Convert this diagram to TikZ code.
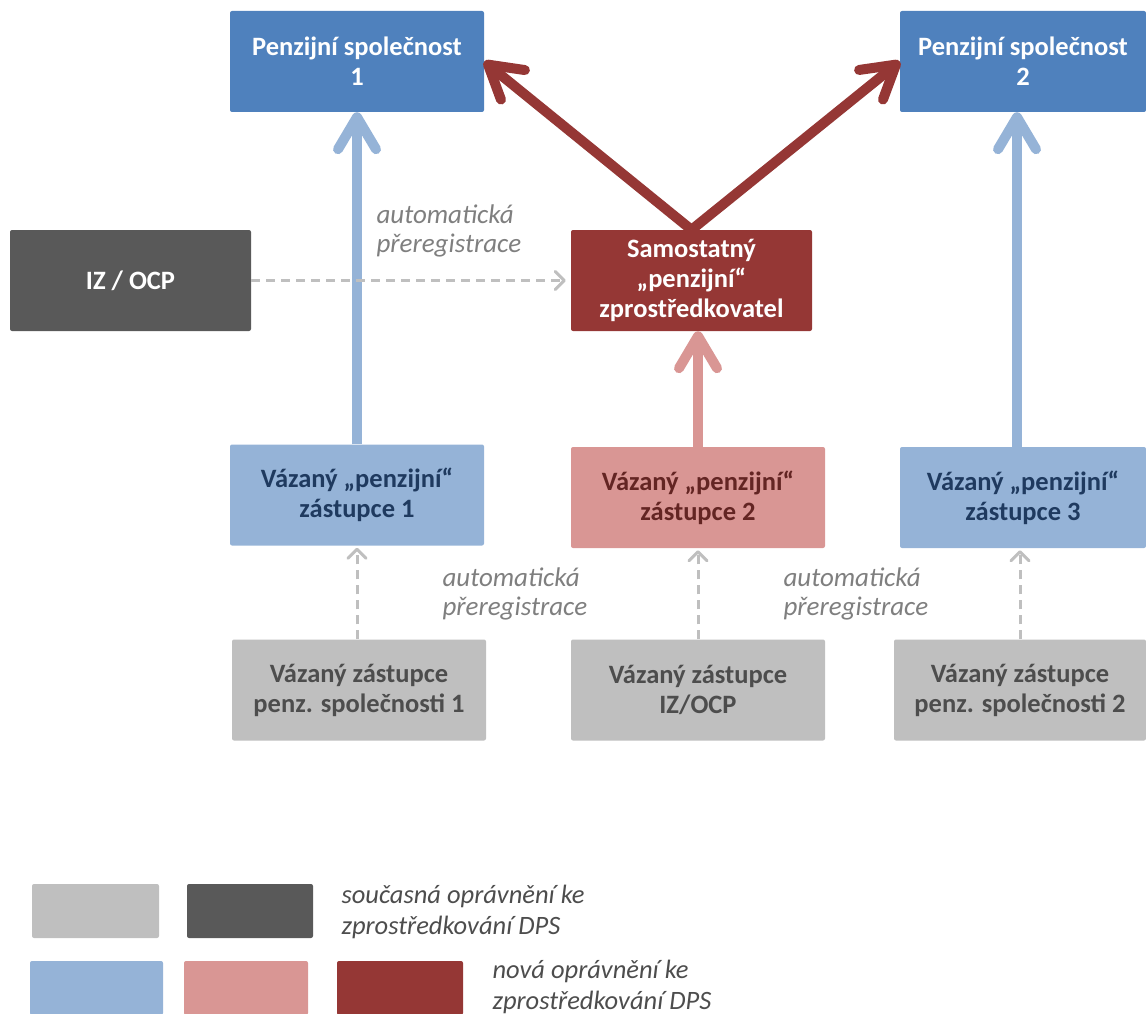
\documentclass[tikz,border=0pt]{standalone}
\usepackage{fontspec}
\setmainfont{Carlito}
\usetikzlibrary{arrows.meta}
\definecolor{psblue}{HTML}{4F81BD}
\definecolor{lightblue}{HTML}{95B3D7}
\definecolor{lightred}{HTML}{D99694}
\definecolor{darkred}{HTML}{953735}
\definecolor{darkgrey}{HTML}{595959}
\definecolor{lightgrey}{HTML}{BFBFBF}
\definecolor{bluetext}{HTML}{1F3A5F}
\definecolor{redtext}{HTML}{632523}
\definecolor{greytext}{HTML}{4D4D4D}
\definecolor{labeltext}{HTML}{7F7F7F}
\tikzset{
    box/.style={rounded corners=2pt, inner sep=0pt, minimum width=254pt, minimum height=101pt,
        align=center, font=\bfseries\fontsize{26.5}{30}\selectfont}, % obdelnik s textem
    legbox/.style={rounded corners=2pt, inner sep=0pt, minimum height=54pt}, % policko legendy
    note/.style={align=left, text=labeltext, font=\itshape\fontsize{27}{29}\selectfont}, % popisek sipky
    legtext/.style={anchor=west, align=left, text=greytext, font=\itshape\fontsize{26.5}{31}\selectfont},
    bigarrow/.style={line width=10pt, -{Straight Barb[round, length=32pt, width=38pt]}}, % silna sipka
    regarrow/.style={line width=3pt, lightgrey, dash pattern=on 9pt off 6pt,
        -{Straight Barb[round, length=9pt, width=18pt]}} % preregistrace
}
\begin{document}
\begin{tikzpicture}[x=1pt, y=-1pt]
    \useasboundingbox (0,0) rectangle (1146,1014);
    \clip (0,0) rectangle (1146,1014);

    \node[box, fill=psblue, text=white] (ps1) at (357,61.5) {Penzijní společnost\\1};
    \node[box, fill=psblue, text=white, minimum width=246pt] (ps2) at (1023,61.5) {Penzijní společnost\\2};
    \node[box, fill=darkgrey, text=white, minimum width=241pt] (iz) at (130.5,280.5) {IZ / OCP};
    \node[box, fill=darkred, text=white, minimum width=241pt] (samo) at (691.5,280.5) {Samostatný\\„penzijní“\\zprostředkovatel};

    \node[box, fill=lightblue, text=bluetext] (v1) at (357,495) {Vázaný „penzijní“\\zástupce 1};
    \node[box, fill=lightred, text=redtext] (v2) at (698,497.5) {Vázaný „penzijní“\\zástupce 2};
    \node[box, fill=lightblue, text=bluetext, minimum width=246pt] (v3) at (1023,497.5) {Vázaný „penzijní“\\zástupce 3};

    \node[box, fill=lightgrey, text=greytext] (g1) at (359,690) {Vázaný zástupce\\penz. společnosti 1};
    \node[box, fill=lightgrey, text=greytext] (g2) at (698,690) {Vázaný zástupce\\IZ/OCP};
    \node[box, fill=lightgrey, text=greytext, minimum width=252pt] (g3) at (1020,690) {Vázaný zástupce\\penz. společnosti 2};

    % silne sipky
    \draw[bigarrow, lightblue] (v1.north) -- (ps1.south);
    \draw[bigarrow, lightblue] ([xshift=-6pt]v3.north) -- ([xshift=-6pt]ps2.south);
    \draw[bigarrow, lightred] (v2.north) -- (v2.north |- samo.south);
    \draw[bigarrow, darkred] (samo.north) -- (ps1.east);
    \draw[bigarrow, darkred] (samo.north) -- (ps2.west);

    % automaticka preregistrace
    \draw[regarrow, shorten >=5pt] (iz.east) -- (samo.west);
    \draw[regarrow, shorten >=2pt] ([xshift=-2pt]g1.north) -- ([xshift=-2pt]g1.north |- v1.south);
    \draw[regarrow, shorten >=2pt] (g2.north) -- (v2.south);
    \draw[regarrow, shorten >=2pt] (g3.north) -- (g3.north |- v3.south);

    \node[note, anchor=west] (n1) at (373,231) {automatická\\přeregistrace};
    \node[note, anchor=west] (n2) at (439,594) {automatická\\přeregistrace};
    \node[note, anchor=west] (n3) at (780,594) {automatická\\přeregistrace};

    % legenda
    \node[legbox, fill=lightgrey, minimum width=127pt] (lg1) at (95.5,911) {};
    \node[legbox, fill=darkgrey, minimum width=126pt] (lg2) at (250,911) {};
    \node[legtext] (lt1) at (338,912) {současná oprávnění ke\\zprostředkování DPS};
    \node[legbox, fill=lightblue, minimum width=133pt] (lg3) at (96.5,988) {};
    \node[legbox, fill=lightred, minimum width=124pt] (lg4) at (246,988) {};
    \node[legbox, fill=darkred, minimum width=126pt] (lg5) at (400,988) {};
    \node[legtext] (lt2) at (489,987) {nová oprávnění ke\\zprostředkování DPS};
\end{tikzpicture}
\end{document}
